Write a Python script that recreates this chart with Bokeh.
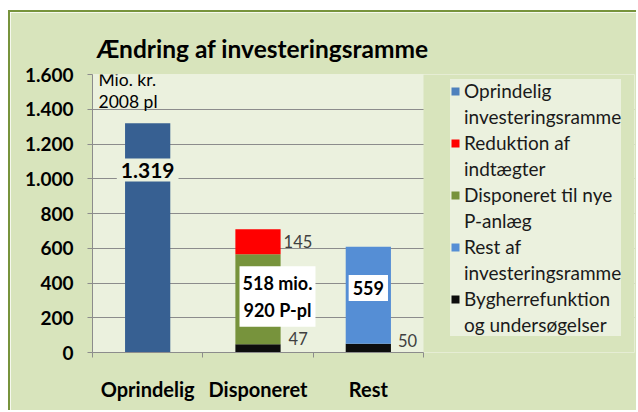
from bokeh.plotting import figure
from bokeh.models import (ColumnDataSource, FixedTicker, Label, Legend, LegendItem,
                          BoxAnnotation, Range1d)
from bokeh.embed import file_html
from bokeh.resources import INLINE

# ---------------- data ----------------
categories = ["Oprindelig", "Disponeret", "Rest"]
oprindelig = [1319, 0, 0]
bygherre = [0, 47, 50]
disponeret = [0, 518, 0]
reduktion = [0, 145, 0]
rest = [0, 0, 559]
p_pladser = 920

y_ticks = [0, 200, 400, 600, 800, 1000, 1200, 1400, 1600]
y_tick_labels = ["0", "200", "400", "600", "800", "1.000", "1.200", "1.400", "1.600"]

legend_entries = [
    ("Oprindelig", "investeringsramme"),
    ("Reduktion af", "indtægter"),
    ("Disponeret til nye", "P-anlæg"),
    ("Rest af", "investeringsramme"),
    ("Bygherrefunktion", "og undersøgelser"),
]

title_text = "Ændring af investeringsramme"
unit_note = ["Mio. kr.", "2008 pl"]

# ---------------- styles ----------------
FONT = "Lato"
OUTER_BG = "#D8E4BC"
PLOT_BG = "#EBF1DE"
GRID = "#8C8C8C"
C_OPR = "#376092"
C_OPR_LEG = "#4F81BD"
C_RED = "#FF0000"
C_GREEN = "#77933C"
C_REST = "#558ED5"
C_BLACK = "#0D0D0D"
BAR_W = 0.41
PX_PER_CAT = 110.33
FRAME_W = 542

def dk(v):
    return f"{v:,}".replace(",", ".")

xs = [i + 0.5 for i in range(len(categories))]
source = ColumnDataSource(dict(x=xs, bygherre=bygherre, disponeret=disponeret,
                               reduktion=reduktion, rest=rest, oprindelig=oprindelig))

p = figure(width=628, height=400, output_backend="svg", toolbar_location=None,
           x_range=Range1d(0, FRAME_W / PX_PER_CAT), y_range=Range1d(y_ticks[0], y_ticks[-1]),
           min_border_left=82, min_border_right=4, min_border_top=62, min_border_bottom=60,
           styles={"margin-left": "8px", "margin-top": "10px",
                   "border-left": "2px solid " + C_GREEN,
                   "border-top": "2px solid " + C_GREEN})
p.border_fill_color = OUTER_BG
p.background_fill_color = PLOT_BG
p.outline_line_color = None

# area right of the plot (legend zone) keeps the outer colour
p.add_layout(BoxAnnotation(left=len(categories), fill_color=OUTER_BG, fill_alpha=1,
                           line_color=None, level="underlay"))

stackers = ["bygherre", "disponeret", "reduktion", "rest", "oprindelig"]
colors = [C_BLACK, C_GREEN, C_RED, C_REST, C_OPR]
p.vbar_stack(stackers, x="x", width=BAR_W, fill_color=colors, line_color=None, source=source)

# axes
p.yaxis.ticker = FixedTicker(ticks=y_ticks)
p.yaxis.major_label_overrides = {t: l for t, l in zip(y_ticks, y_tick_labels)}
p.yaxis.axis_line_color = GRID
p.yaxis.major_tick_line_color = GRID
p.yaxis.major_tick_out = 5
p.yaxis.major_tick_in = 0
p.yaxis.minor_tick_line_color = None
p.yaxis.major_label_text_font = FONT
p.yaxis.major_label_text_font_style = "bold"
p.yaxis.major_label_text_font_size = "19px"
p.yaxis.major_label_text_color = "#000000"
p.yaxis.major_label_standoff = 14

p.xaxis.bounds = (0, len(categories))
p.xaxis.ticker = FixedTicker(ticks=xs, minor_ticks=list(range(len(categories) + 1)))
p.xaxis.major_label_overrides = {x: c for x, c in zip(xs, categories)}
p.xaxis.axis_line_color = GRID
p.xaxis.major_tick_line_color = None
p.xaxis.major_tick_out = 0
p.xaxis.minor_tick_line_color = GRID
p.xaxis.minor_tick_out = 5
p.xaxis.minor_tick_in = 0
p.xaxis.major_label_text_font = FONT
p.xaxis.major_label_text_font_style = "bold"
p.xaxis.major_label_text_font_size = "20px"
p.xaxis.major_label_text_color = "#000000"
p.xaxis.major_label_standoff = 19

p.xgrid.grid_line_color = None
p.ygrid.ticker = FixedTicker(ticks=y_ticks[1:-1])
p.ygrid.bounds = (0, len(categories))
p.ygrid.grid_line_color = GRID

# title
p.title.text = title_text
p.title.text_font = FONT
p.title.text_font_style = "bold"
p.title.text_font_size = "24.5px"
p.title.text_color = "#000000"
p.title.align = "left"
p.title.offset = 4
p.title.standoff = 23

# unit note
for i, line in enumerate(unit_note):
    p.add_layout(Label(x=0, y=y_ticks[-1], x_offset=6, y_offset=-5 - 22 * i, text=line,
                       text_font=FONT, text_font_size="17.5px", text_color="#000000",
                       text_align="left", text_baseline="middle"))

# big value labels
p.add_layout(Label(x=xs[0], y=1050, text=dk(oprindelig[0]), text_font=FONT,
                   text_font_style="bold", text_font_size="21px", text_color="#000000",
                   text_align="center", text_baseline="middle",
                   background_fill_color=PLOT_BG, padding=(4, 4)))
p.add_layout(Label(x=xs[1], y=322, x_offset=19.5,
                   text=f"{disponeret[1]} mio.\n{p_pladser} P-pl", text_font=FONT,
                   text_font_style="bold", text_font_size="18px", text_color="#000000",
                   text_align="center", text_baseline="middle", text_line_height=1.2,
                   background_fill_color="#FFFFFF", padding=(3, 6)))
p.add_layout(Label(x=xs[2], y=371, text=str(rest[2]), text_font=FONT,
                   text_font_style="bold", text_font_size="18px", text_color="#000000",
                   text_align="center", text_baseline="middle",
                   background_fill_color="#FFFFFF", padding=(4, 6)))

# small side labels
small = dict(text_font=FONT, text_font_size="16.5px", text_color="#404040",
             text_align="left", text_baseline="middle")
p.add_layout(Label(x=xs[1] + BAR_W / 2, y=bygherre[1] + disponeret[1] + reduktion[1] / 2,
                   x_offset=3, text=str(reduktion[1]), **small))
p.add_layout(Label(x=xs[1] + BAR_W / 2, y=81, x_offset=8, text=str(bygherre[1]), **small))
p.add_layout(Label(x=xs[2] + BAR_W / 2, y=69, x_offset=7, text=str(bygherre[2]), **small))

# legend (swatch-only renderers placed off the visible range)
leg_colors = [C_OPR_LEG, C_RED, C_GREEN, C_REST, C_BLACK]
off = dict(x=[-10], top=[0], width=0.1)
blank = p.vbar(**off, fill_alpha=0, line_alpha=0)
items = []
for (l1, l2), c in zip(legend_entries, leg_colors):
    r = p.vbar(**off, fill_color=c, line_color=None)
    items.append(LegendItem(label=l1, renderers=[r]))
    items.append(LegendItem(label=l2, renderers=[blank]))
legend = Legend(items=items, location=(358, 16), margin=0, padding=4,
                glyph_width=10, glyph_height=10, label_standoff=4,
                label_height=20, spacing=3,
                label_text_font=FONT, label_text_font_size="19px",
                label_text_color="#1A1A1A",
                background_fill_color=PLOT_BG, background_fill_alpha=1,
                border_line_color=None)
p.add_layout(legend, "center")

open("out.html", "w").write(file_html(p, INLINE))
